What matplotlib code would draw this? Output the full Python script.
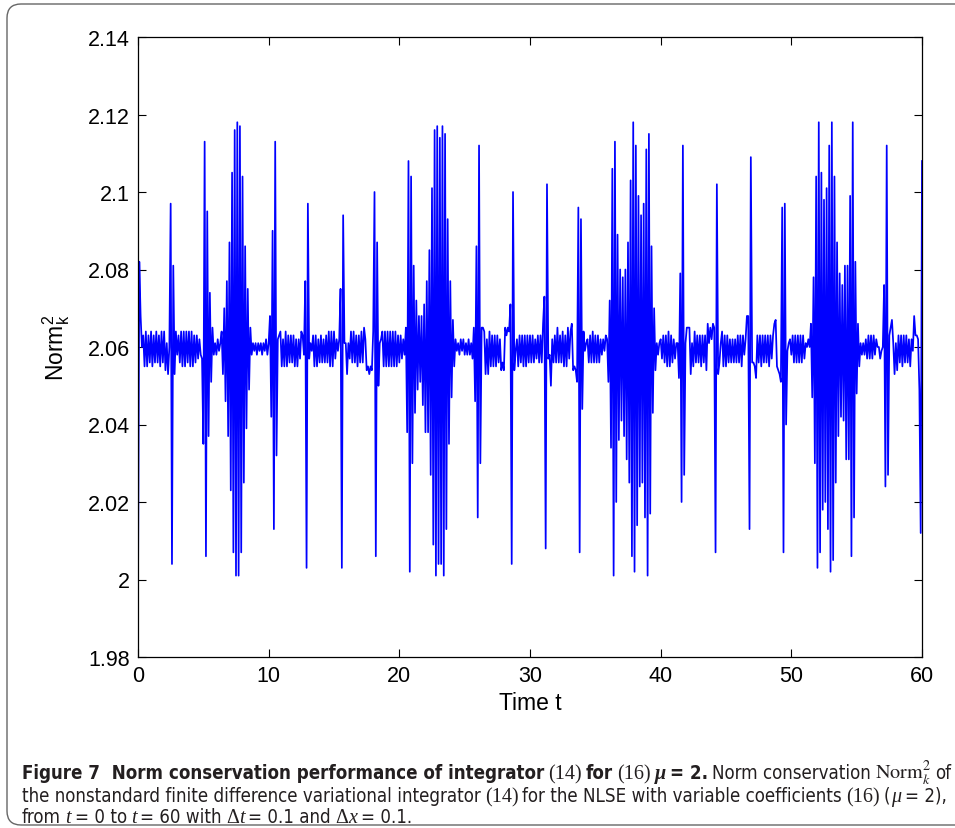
import numpy as np
import matplotlib.pyplot as plt
from matplotlib.patches import FancyBboxPatch
from matplotlib.transforms import IdentityTransform

plt.rcParams['mathtext.fontset'] = 'stix'

# Norm_k^2 minus 2.06, in units of 1e-3, one value per step (dt = 0.1)
dev_t00_10 = [-64, 22, 8, 0,
              3, -5, 4, -5, 3, -4, 4, -5, 3, -4, 4, -4, 3, -5, 4, -4, 4, -6, 1, -7, 0,
              37, -56, 21, -7, 4,
              -2, 3, -4, 4, -5, 4, -5, 4, -4, 4, -5, 4, -5, 3, -4, 3, -3, 2, -2,
              -3, -25, 53, -54, 35, -23, 14, -9, 5, -2,
              1, -2, 2, -1, 1,
              4, -7, 10, -14, 17, -23, 27, -37, 45, -53, 56, -59, 58, -59, 57, -53,
              44, -35, 26, -21, 15, -11, 5, -2, 1,
              -1, 1, -2, 1, -1, 1, -2, 1, -1, 2, -2]
dev_t10_20 = [1,
              8, -18, 30, -47, 53, -28,
              2, 3, 4, -5, 2, -5, 4, -5, 3, -4, 3, -4, 3, -5, 2, -5, 2, -3, 4, 3, -2,
              17, -57, 37, -3, 1,
              -1, 3, -5, 3, -5, 2, -4, 3, -4, 2, -4, 3, -4, 4, -5, 4, -5, 4, -3, 2, -1, 2,
              15, -57, 34, 1, 1, -7, 1,
              -3, 4, -4, 4, -4, 3, -5, 3, -4, 4, -4, 5,
              2, -6, -5, -7, -5, -6, 4,
              40, -54, 27, -10, 1,
              2, 4, -5, 4, -5, 4, -5, 4, -5, 4, -5, 4, -5, 3]
dev_t20_30 = [-4, 3, -3, 2, -2, 5,
              -22, 48, -58, 44, -30, 21, -17, 12, -11, 8, -9, 8, -15, 11, -22, 17,
              -22, 25, -33, 41, -51, 56, -59, 57, -56, 54, -56, 57, -59, 55, -47, 33,
              -25, 17, -13, 7, -5, 2, -1,
              1, -2, 2, -1, 2, -2, 1, -2, 2, -2, 1,
              -3, 5, -14, 26, -44, 52, -30, 5, 5, 4, -7,
              2, -7, 4, -5, 3, -5, 3, -5, 3, -4, 2, -6, -4, -6, 5, 3, 5, 4, 11, -56, 40, -6, -1,
              2, -5, 3, -4, 3, -5, 3, -5, 3, -4]
dev_t30_40 = [3, -4, 3, -4, 2, -3, 3, -4, 3, -4, 6, 13, -52, 42, -3, -2, -10, 2,
              -4, 3, -4, 5, -4, 3, -4, 4, -5, 3, -5, 5, -3, 4,
              6, -6, -5, -6, -9, 36, -53, 33, -16, 4,
              -1, 1, 2, -4, 3, -4, 4, -4, 3, -4, 3, -4, 2, -2, 2, -1, 3, 2,
              -9, 12, -26, 46, -59, 53, -40, 29, -24, 20, -19, 18, -23, 20, -29, 27,
              -35, 43, -54, 58, -58, 52, -46, 39, -36, 34, -35, 37, -44, 51, -59, 55,
              -43, 26, -17, 10, -6, 1, -2,
              1]
dev_t40_50 = [2, -3, 3, -4, 3, -5, 4, -5, 3, -4, 2, -3, 1, 1, -8,
              19, -40, 52, -33, 1, 5, 5, 5, -7, 1,
              -5, 4, -4, 3, -4, 3, -5, 3, -4, 3, -6, 6, 1, 5, 2, 6, 5, -53, 42, -7, -4, 1,
              4, -5, 3, -5, 3, -4, 2, -4, 2, -4, 2, -4, 3, -4, 3, -5, 3, -2,
              2, 8, 8, -47, 49, -4, -4, -5, -8, 3,
              -4, 3, -5, 3, -4, 3, -4, 3, -5, 3, -3, 3, 6, 7, -5, -6, -7, -9,
              36, -53, 37, -20, -1, 1, 2]
dev_t50_60 = [-2, 3, -4, 3, -4, 3, -4, 3, -4, 3, -3, 1, 0, 2, 0,
              6, -13, 18, -30, 44, -57, 58, -53, 45, -42, 38, -40, 41, -47, 52, -58,
              58, -55, 44, -35, 27, -23, 19, -18, 16, -19, 21, -29, 21, -29, 39, -54,
              58, -44, 22, -12, 6, -5, 1,
              -2, 1, -2, 2, -3, 3, -3, 3, -3, 3, -2, 2, 0, 0, -3, -1, 0, 16, -36, 52,
              -33, 3, 5, 7, 1, -7,
              1, -6, 3, -4, 3, -5, 3, -4, 3, -4, 2, -5, 2, -1, 8, 3, 3, 2, -11, -48, 48]

dev = np.array(dev_t00_10 + dev_t10_20 + dev_t20_30 + dev_t30_40 + dev_t40_50 + dev_t50_60,
               dtype=float)
norm2 = 2.06 + dev / 1000.0
t = np.arange(len(dev)) * 0.1

yticks = [1.98, 2.0, 2.02, 2.04, 2.06, 2.08, 2.1, 2.12, 2.14]
ytick_labels = ['1.98', '2', '2.02', '2.04', '2.06', '2.08', '2.1', '2.12', '2.14']
xticks = [0, 10, 20, 30, 40, 50, 60]

W, H = 955, 829
fig = plt.figure(figsize=(W / 100, H / 100), dpi=100)
ax = fig.add_axes([138 / W, 1 - 658 / H, 784 / W, 620 / H])
ax.plot(t, norm2, color='#0000ff', lw=1.25)
ax.set_xlim(0, 60)
ax.set_ylim(1.98, 2.14)
ax.set_xticks(xticks)
ax.set_xticklabels([str(v) for v in xticks])
ax.set_yticks(yticks)
ax.set_yticklabels(ytick_labels)
ax.tick_params(direction='in', top=True, right=True, length=5.5, width=0.8,
               labelsize=15.5, pad=6)
for lab in ax.get_xticklabels() + ax.get_yticklabels():
    lab.set_family('Liberation Sans')
for s in ax.spines.values():
    s.set_linewidth(0.9)

fig.text(530 / W, 1 - 704 / H, 'Time t', ha='center', va='center',
         fontsize=16.5, family='Liberation Sans')
fig.text(56 / W, 1 - 348 / H, r'$\mathregular{Norm_k^2}$', ha='center', va='center',
         rotation=90, fontsize=16.5, family='Liberation Sans')

# rounded frame around figure and caption
frame = FancyBboxPatch((7, 3), 990, 821, boxstyle='round,pad=0,rounding_size=14',
                       transform=IdentityTransform(), fill=False, ec='#666666', lw=1.0)
fig.add_artist(frame)

# caption, built piece by piece so fonts can mix on one line
ink = '#231f20'
narrow = ['DejaVu Sans', 'Liberation Sans']
SP = 4
renderer = fig.canvas.get_renderer()


def styles(fs):
    reg = dict(family=narrow, fontsize=fs, color=ink, fontstretch='condensed')
    bold = dict(reg, weight='bold')
    serif = dict(family='Liberation Serif', fontsize=fs * 1.08, color=ink)
    serif_it = dict(serif, style='italic')
    mu_bold = dict(serif, weight='bold', style='italic')
    math = dict(fontsize=fs * 1.08, color=ink)
    return reg, bold, serif, serif_it, mu_bold, math


def caption_pieces(fs):
    reg, bold, serif, serif_it, mu_bold, math = styles(fs)
    line1 = [
        ('Figure 7  Norm conservation performance of integrator', 0, bold),
        ('(14)', SP, serif),
        ('for', SP, bold),
        ('(16)', SP, serif),
        ('μ', SP, mu_bold),
        ('= 2.', SP, bold),
        ('Norm conservation', SP, reg),
        (r'$\mathrm{Norm}_k^2$', SP, math),
        ('of', SP, reg),
    ]
    line2 = [
        ('the nonstandard finite difference variational integrator', 0, reg),
        ('(14)', SP, serif),
        ('for the NLSE with variable coefficients', SP, reg),
        ('(16)', SP, serif),
        ('(', SP, reg),
        ('μ', 1, serif_it),
        ('= 2),', SP, reg),
    ]
    line3 = [
        ('from', 0, reg),
        ('t', SP, serif_it),
        ('= 0 to', SP, reg),
        ('t', SP, serif_it),
        ('= 60 with', SP, reg),
        ('Δ', SP, serif),
        ('t', 0, serif_it),
        ('= 0.1 and', SP, reg),
        ('Δ', SP, serif),
        ('x', 0, serif_it),
        ('= 0.1.', SP, reg),
    ]
    return line1, line2, line3


def caption_line(x0, ybase, pieces, keep=True):
    x = x0
    made = []
    for txt, gap, kw in pieces:
        x += gap
        tt = fig.text(x / W, 1 - ybase / H, txt, ha='left', va='baseline', **kw)
        x += tt.get_window_extent(renderer).width
        made.append(tt)
    if not keep:
        for tt in made:
            tt.remove()
    return x


# size the caption so the second line runs to the right edge of the frame
fs0 = 12
end = caption_line(22, 802, caption_pieces(fs0)[1], keep=False)
fs = fs0 * (950 - 22) / (end - 22)

l1, l2, l3 = caption_pieces(fs)
caption_line(22, 779, l1)
caption_line(22, 802, l2)
caption_line(22, 823, l3)

fig.savefig('out.png', dpi=100)
